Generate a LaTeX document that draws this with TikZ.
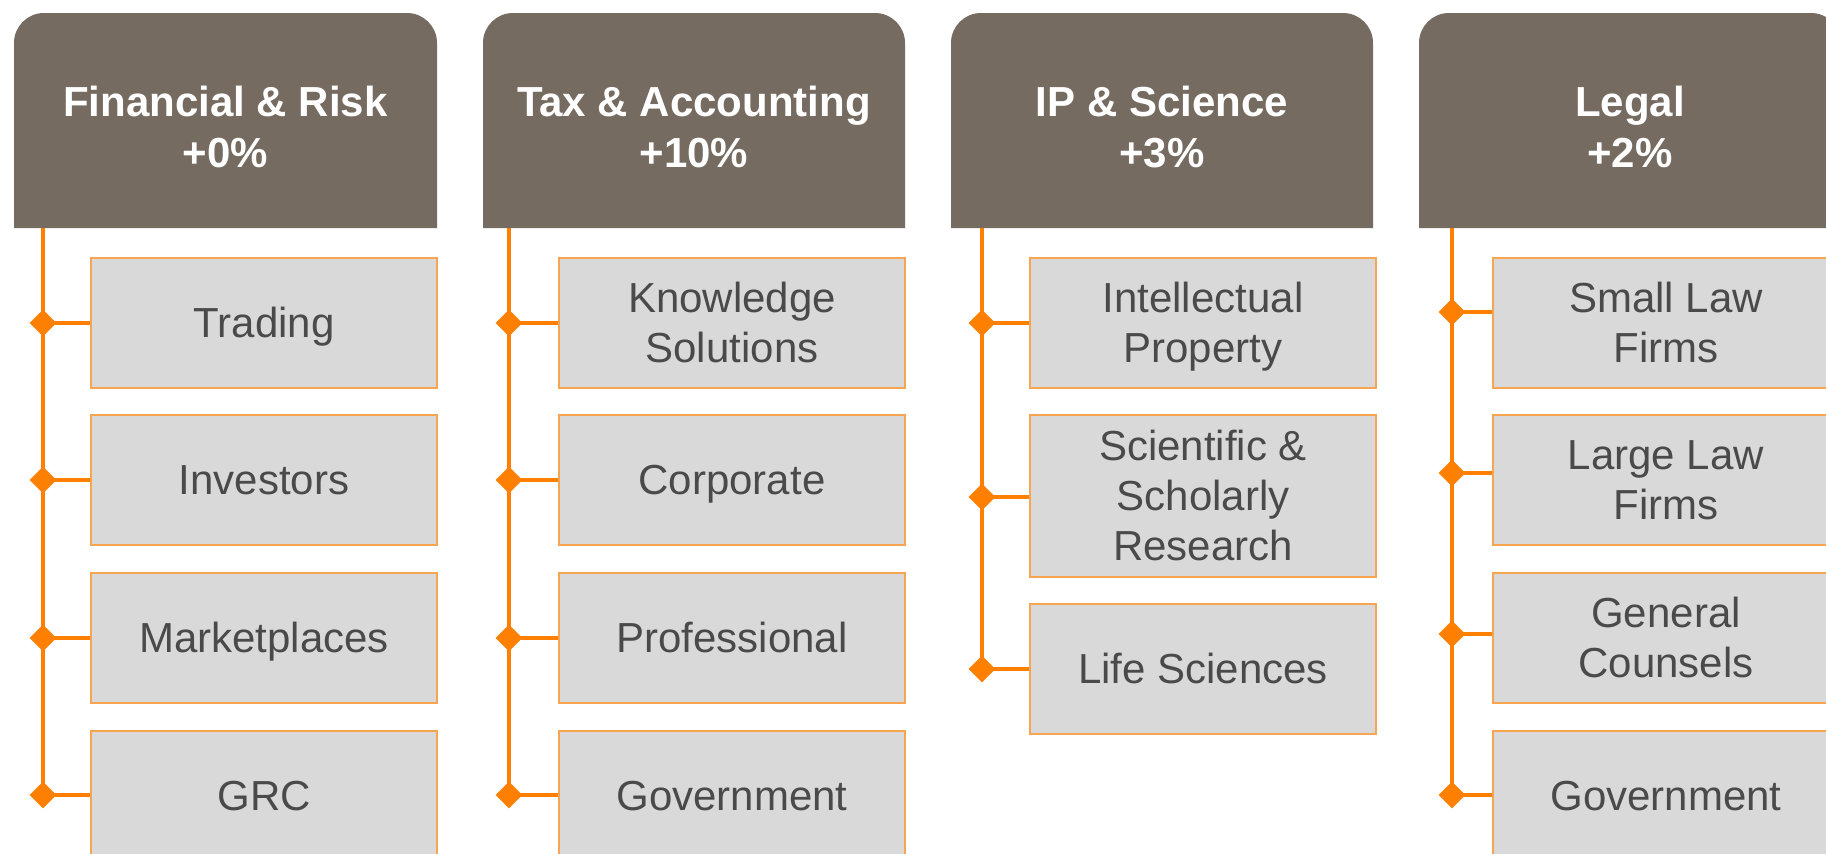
\documentclass[tikz,border=0pt]{standalone}
\usepackage{fontspec}
\setmainfont{Liberation Sans}
\usetikzlibrary{shapes.geometric}
\definecolor{orng}{HTML}{FF8000}
\definecolor{boxline}{HTML}{F7A553}
\definecolor{boxfill}{HTML}{D9D9D9}
\definecolor{txtgray}{HTML}{4A4A4A}
\definecolor{hdrcol}{HTML}{766B60}
\newcommand{\ms}{\rule[-8.9pt]{0pt}{47pt}}
\tikzset{
  hdrtext/.style={text=white, font=\bfseries\fontsize{42}{51}\selectfont, align=center, inner sep=0pt},
  hdrbox/.style={fill=hdrcol},
  item/.style={draw=boxline, fill=boxfill, line width=1.4pt, minimum width=346pt, minimum height=130pt,
    inner sep=0pt, text=txtgray, font=\fontsize{42}{50}\selectfont, align=center},
  dia/.style={diamond, fill=orng, inner sep=0pt, minimum width=27pt, minimum height=27pt},
  conn/.style={draw=orng, line width=3.5pt},
  spine/.style={draw=orng, line width=3.8pt}
}
\begin{document}
\begin{tikzpicture}[x=1pt,y=-1pt]
\useasboundingbox (0,0) rectangle (1826,854);
\clip (0,0) rectangle (1826,854);
\fill[white] (0,0) rectangle (1826,854);

% ---------- headers ----------
\fill[hdrbox] (14,228) [rounded corners=30pt] -- (14,13) -- (437,13) [sharp corners] -- (437,228) -- cycle;
\fill[hdrbox] (483,228) [rounded corners=30pt] -- (483,13) -- (905,13) [sharp corners] -- (905,228) -- cycle;
\fill[hdrbox] (951,228) [rounded corners=30pt] -- (951,13) -- (1373,13) [sharp corners] -- (1373,228) -- cycle;
\fill[hdrbox] (1419,228) [rounded corners=30pt] -- (1419,13) -- (1841,13) [sharp corners] -- (1841,228) -- cycle;

\node[hdrtext] (h1) at (225.5,127) {\ms Financial \& Risk\\+0\%\ms};
\node[hdrtext] (h2) at (694,127) {\ms Tax \& Accounting\\+10\%\ms};
\node[hdrtext] (h3) at (1162,127) {\ms IP \& Science\\+3\%\ms};
\node[hdrtext] (h4) at (1630,127) {\ms Legal\\+2\%\ms};

\coordinate (t1) at (43,228);
\coordinate (t2) at (509,228);
\coordinate (t3) at (982,228);
\coordinate (t4) at (1452,228);

% ---------- item boxes ----------
\node[item] (b11) at (264,323) {\ms Trading};
\node[item] (b12) at (264,480) {\ms Investors};
\node[item] (b13) at (264,638) {\ms Marketplaces};
\node[item] (b14) at (264,796) {\ms GRC};

\node[item] (b21) at (732,323) {\ms Knowledge\\Solutions\ms};
\node[item] (b22) at (732,480) {\ms Corporate};
\node[item] (b23) at (732,638) {\ms Professional};
\node[item] (b24) at (732,796) {\ms Government};

\node[item] (b31) at (1203,323) {\ms Intellectual\\Property\ms};
\node[item, minimum height=162pt] (b32) at (1203,496) {\ms Scientific \&\\Scholarly\\Research\ms};
\node[item] (b33) at (1203,669) {\ms Life Sciences};

\node[item] (b41) at (1666,323) {\ms Small Law\\Firms\ms};
\node[item] (b42) at (1666,480) {\ms Large Law\\Firms\ms};
\node[item] (b43) at (1666,638) {\ms General\\Counsels\ms};
\node[item] (b44) at (1666,796) {\ms Government};

% ---------- diamonds ----------
\node[dia] (d11) at (43,323) {};
\node[dia] (d12) at (43,480) {};
\node[dia] (d13) at (43,638) {};
\node[dia] (d14) at (43,795) {};

\node[dia] (d21) at (509,323) {};
\node[dia] (d22) at (509,480) {};
\node[dia] (d23) at (509,638) {};
\node[dia] (d24) at (509,795) {};

\node[dia] (d31) at (982,323) {};
\node[dia] (d32) at (982,497) {};
\node[dia] (d33) at (982,669) {};

\node[dia] (d41) at (1452,312) {};
\node[dia] (d42) at (1452,473) {};
\node[dia] (d43) at (1452,634) {};
\node[dia] (d44) at (1452,795) {};

% ---------- spines ----------
\draw[spine] (t1) -- (d14.center);
\draw[spine] (t2) -- (d24.center);
\draw[spine] (t3) -- (d33.center);
\draw[spine] (t4) -- (d44.center);

% ---------- connectors ----------
\foreach \c/\r in {1/1,1/2,1/3,1/4,2/1,2/2,2/3,2/4,3/1,3/2,3/3,4/1,4/2,4/3,4/4}{
  \draw[conn] (d\c\r.center) -- (d\c\r.center -| b\c\r.west);
}
\end{tikzpicture}
\end{document}
